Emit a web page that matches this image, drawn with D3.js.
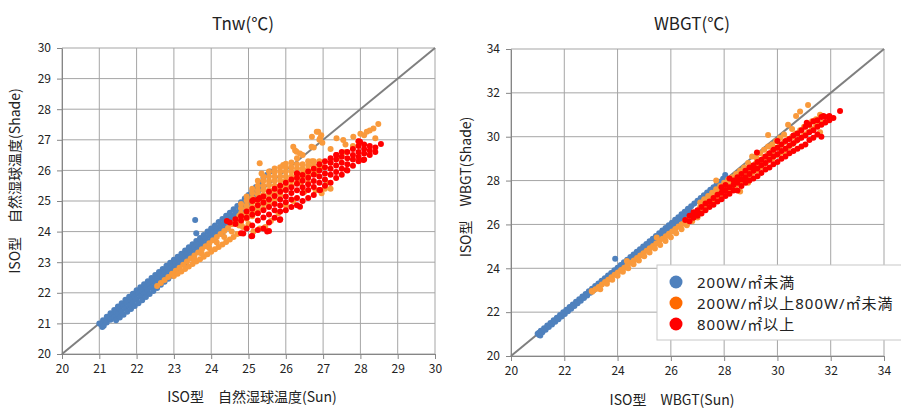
<!DOCTYPE html>
<html>
<head>
<meta charset="utf-8">
<script src="https://cdn.jsdelivr.net/npm/d3@7"></script>
<style>
  body { margin: 0; background: #fff; }
  text { font-family: "Noto Sans CJK JP", "Noto Sans", sans-serif; fill: #222; }
  .legend text { font-family: "Noto Sans", "Noto Sans CJK JP", sans-serif; }
</style>
</head>
<body>
<div id="chart"></div>
<script>
// ---- data ----
const tnwTicks = [20, 21, 22, 23, 24, 25, 26, 27, 28, 29, 30];
const wbgtTicks = [20, 22, 24, 26, 28, 30, 32, 34];

const legendLabels = ["200W/㎡未満", "200W/㎡以上800W/㎡未満", "800W/㎡以上"];

// points are [sun, shade]; "cols" arrays are [sun, shade1, shade2, ...]
const tnwLow = [
  [21.0,21.0],[21.1,21.1],[21.2,21.22],[21.3,21.33],[21.4,21.44],[21.5,21.55],[21.6,21.66],[21.7,21.77],[21.8,21.87],[21.9,21.97],
  [22.0,22.08],[22.1,22.18],[22.2,22.28],[22.3,22.38],[22.4,22.48],[22.5,22.58],[22.6,22.68],[22.7,22.78],[22.8,22.88],[22.9,22.98],
  [23.0,23.08],[23.1,23.18],[23.2,23.28],[23.3,23.38],[23.4,23.49],[23.5,23.59],[23.6,23.69],[23.7,23.79],[23.8,23.89],[23.9,24.0],
  [24.0,24.1],[24.1,24.2],[24.2,24.31],[24.3,24.41],[24.4,24.52],[24.5,24.62],[24.6,24.73],[24.7,24.84],[24.8,24.96],[24.9,25.08],
  [25.0,25.2],[25.1,25.33],[25.2,25.46],[25.3,25.6],[25.4,25.75],[25.5,25.86],[25.58,25.96],
  [21.05,20.96],[21.15,21.07],[21.25,21.17],[21.35,21.27],[21.45,21.37],[21.55,21.47],[21.65,21.57],[21.75,21.67],[21.85,21.77],[21.95,21.87],
  [22.05,21.97],[22.15,22.07],[22.25,22.17],[22.35,22.27],[22.45,22.37],[22.55,22.47],[22.65,22.57],[22.75,22.67],[22.85,22.77],[22.95,22.87],
  [23.05,22.97],[23.15,23.07],[23.25,23.17],[23.35,23.27],[23.45,23.37],[23.55,23.47],[23.65,23.57],[23.75,23.67],[23.85,23.77],[23.95,23.87],
  [24.05,23.97],[24.15,24.07],[24.25,24.17],[24.35,24.27],[24.45,24.37],[24.55,24.47],[24.65,24.58],[24.75,24.69],[24.85,24.8],[24.95,24.92],
  [25.05,25.04],[25.15,25.17],[25.25,25.3],[25.35,25.45],
  [21.08,20.88],[21.12,20.92],[21.2,21.03],[21.3,21.12],[21.4,21.2],[21.5,21.3],[21.6,21.39],[21.7,21.49],[21.8,21.58],[21.9,21.68],
  [22.0,21.78],[22.1,21.88],[22.2,21.98],[22.3,22.08],[22.4,22.18],[22.5,22.28],[22.6,22.38],[22.7,22.48],[22.8,22.58],[22.9,22.68],
  [23.0,22.78],[23.1,22.88],[23.2,22.98],[23.3,23.08],[23.4,23.18],[23.5,23.28],[23.6,23.38],[23.7,23.48],[23.8,23.58],[23.9,23.68],
  [24.0,23.78],[24.1,23.88],[24.2,23.98],[24.3,24.08],[24.4,24.18],[24.5,24.29],[24.6,24.4],[24.7,24.51],[24.8,24.62],[24.9,24.74],
  [25.0,24.86],[25.1,24.98],
  [21.45,21.1],[21.55,21.19],[21.65,21.28],[21.75,21.38],[21.85,21.47],[21.95,21.57],[22.05,21.66],[22.15,21.76],[22.25,21.86],[22.35,21.96],
  [22.45,22.06],[22.55,22.16],[22.65,22.26],[22.75,22.36],[22.85,22.46],[22.95,22.56],[23.1,22.72],[23.3,22.92],[23.5,23.12],[23.7,23.32],
  [23.9,23.52],[24.1,23.72],[24.3,23.92],
  [23.57,24.38],[23.6,23.95]
];
const tnwMid = [
  [22.55,22.22],[22.65,22.32],[22.75,22.42],[22.85,22.52],[22.95,22.62],[23.05,22.72],[23.15,22.82],[23.25,22.92],[23.35,23.02],[23.45,23.12],
  [23.55,23.22],[23.65,23.32],[23.75,23.42],[23.85,23.52],[23.95,23.62],[24.05,23.72],[24.15,23.82],[24.25,23.92],[24.35,24.02],[24.45,24.12],
  [24.55,24.24],[24.65,24.38],[24.75,24.52],
  [23.0,22.55],[23.1,22.62],[23.2,22.7],[23.3,22.78],[23.4,22.86],[23.5,22.94],[23.6,23.02],[23.7,23.1],[23.8,23.18],[23.9,23.26],
  [24.0,23.34],[24.1,23.42],[24.2,23.5],[24.3,23.58],[24.4,23.66],[24.5,23.74],[24.6,23.82],[24.7,23.92],
  [23.55,23.1],[23.75,23.28],[23.95,23.46],[24.15,23.64],[24.35,23.82],[24.55,24.0],[24.75,24.2],
  // upper scatter along the 1:1 line
  [25.3,26.23],[25.35,25.9],[25.93,26.18],[26.2,26.77],[26.25,26.65],[26.29,26.61],[26.38,26.55],[26.7,27.1],[26.69,26.77],[26.83,27.26],
  [26.87,27.26],[26.92,27.05],[26.95,27.15],[26.98,26.9],[27.36,27.05],[27.54,26.99],[27.81,27.1],[27.95,26.95],[28.0,27.2],[28.1,27.15],
  [28.17,27.26],[28.25,27.3],[28.35,27.37],[28.4,27.05],[28.48,27.52],[27.2,26.7],[27.6,26.85],
  // under the red band
  [24.85,24.15],[25.0,24.25],[25.13,24.0],[25.3,24.1],[25.45,24.15],[25.6,24.35],[25.8,24.6],[26.0,24.85],[26.2,25.0],[26.5,25.3],
  [26.8,25.35],[26.96,25.25],[27.05,25.4],[27.1,25.6],[27.2,25.4],[26.6,25.6],[26.8,25.9],[27.0,26.1],[27.2,26.25],[26.5,26.0],
  [26.7,26.3],[26.4,25.6],[27.4,26.4],[27.6,26.6],[27.8,26.8]
];
const tnwMidCols = [
  [24.8, 24.3, 24.46, 24.6, 24.76, 24.9],
  [24.95, 24.42, 24.55, 24.72, 24.85, 25.02, 25.15],
  [25.1, 24.5, 24.66, 24.8, 24.96, 25.1, 25.26, 25.4],
  [25.25, 24.62, 24.75, 24.92, 25.05, 25.22, 25.35, 25.5, 25.66],
  [25.4, 24.75, 24.9, 25.06, 25.2, 25.36, 25.5, 25.66, 25.8],
  [25.55, 24.9, 25.04, 25.2, 25.35, 25.52, 25.65, 25.8, 25.96],
  [25.7, 25.05, 25.22, 25.35, 25.5, 25.66, 25.8, 25.95, 26.06],
  [25.85, 25.2, 25.36, 25.5, 25.66, 25.8, 25.96, 26.1],
  [26.0, 25.35, 25.5, 25.66, 25.8, 25.96, 26.1, 26.22],
  [26.15, 25.5, 25.66, 25.8, 25.96, 26.1, 26.26],
  [26.3, 25.6, 25.76, 25.9, 26.06, 26.2, 26.4],
  [26.45, 25.75, 25.9, 26.06, 26.2, 26.5],
  [26.6, 25.85, 26.0, 26.16, 26.3],
  [26.75, 26.0, 26.15, 26.3, 26.75],
  [26.9, 26.1, 26.3, 27.0]
];
const tnwHigh = [
  [24.42,24.35],[24.86,23.94],[25.08,23.85],[25.5,24.0],[25.13,25.03],[25.3,25.1],[26.38,24.81],[26.92,25.36],[27.63,26.01],[27.99,26.94],
  [28.55,26.86],[28.08,26.34],[27.36,26.5],[26.3,25.9],[25.84,24.38]
];
const tnwHighCols = [
  [24.5, 24.3],
  [24.65, 24.25, 24.4],
  [24.8, 23.95, 24.36, 24.5],
  [24.95, 24.1, 24.45, 24.66],
  [25.1, 23.86, 24.2, 24.55, 24.75, 25.0],
  [25.25, 24.05, 24.36, 24.6, 24.86, 25.05],
  [25.4, 24.1, 24.46, 24.7, 24.95, 25.15],
  [25.55, 24.02, 24.3, 24.56, 24.8, 25.05, 25.3],
  [25.7, 24.45, 24.7, 24.9, 25.16, 25.4],
  [25.85, 24.4, 24.66, 24.85, 25.05, 25.3, 25.5],
  [26.0, 24.7, 24.96, 25.15, 25.36, 25.6],
  [26.15, 24.8, 25.05, 25.26, 25.45, 25.7],
  [26.3, 24.86, 25.1, 25.35, 25.56, 25.75, 25.9],
  [26.45, 25.0, 25.26, 25.45, 25.66, 25.85],
  [26.6, 25.1, 25.36, 25.55, 25.76, 25.96],
  [26.75, 25.2, 25.46, 25.65, 25.86, 26.05],
  [26.9, 25.36, 25.6, 25.8, 26.0, 26.2],
  [27.05, 25.5, 25.7, 25.9, 26.1, 26.3],
  [27.2, 25.6, 25.86, 26.05, 26.25, 26.4],
  [27.35, 25.75, 25.95, 26.16, 26.36, 26.5],
  [27.5, 25.86, 26.05, 26.25, 26.45, 26.6],
  [27.65, 26.0, 26.2, 26.4, 26.6],
  [27.8, 26.15, 26.36, 26.5, 26.7],
  [27.95, 26.3, 26.45, 26.6, 26.8, 26.95],
  [28.1, 26.36, 26.55, 26.7, 26.85],
  [28.25, 26.5, 26.65, 26.8],
  [28.4, 26.6, 26.75]
];

const wbgtLow = [
  [21.0,21.02],[21.12,21.15],[21.24,21.27],[21.36,21.39],[21.48,21.51],[21.6,21.63],[21.72,21.75],[21.84,21.87],[21.96,21.99],[22.08,22.11],
  [22.2,22.23],[22.32,22.35],[22.44,22.47],[22.56,22.59],[22.68,22.71],[22.8,22.83],[22.92,22.95],[23.04,23.07],[23.16,23.19],[23.28,23.31],
  [23.4,23.43],[23.52,23.55],[23.64,23.67],[23.76,23.79],[23.88,23.91],[24.0,24.03],[24.12,24.15],[24.24,24.27],[24.36,24.39],[24.48,24.51],
  [24.6,24.63],[24.72,24.75],[24.84,24.87],[24.96,24.99],[25.08,25.11],[25.2,25.23],[25.32,25.35],[25.44,25.47],[25.56,25.6],[25.68,25.72],
  [25.8,25.84],[25.92,25.96],[26.04,26.08],[26.16,26.21],[26.28,26.33],[26.4,26.46],[26.52,26.58],[26.64,26.71],[26.76,26.83],[26.88,26.96],
  [27.0,27.08],[27.12,27.21],[27.24,27.33],[27.36,27.46],[27.48,27.58],[27.6,27.7],[27.72,27.83],[27.84,27.95],[27.96,28.08],[28.04,28.25],
  [21.06,20.96],[21.18,21.08],[21.3,21.2],[21.42,21.32],[21.54,21.44],[21.66,21.56],[21.78,21.68],[21.9,21.8],[22.02,21.92],[22.14,22.04],
  [22.26,22.16],[22.38,22.28],[22.5,22.4],[22.62,22.52],[22.74,22.64],[22.86,22.76],[22.98,22.88],[23.1,23.0],[23.22,23.12],[23.34,23.24],
  [23.46,23.36],[23.58,23.48],[23.7,23.6],[23.82,23.72],[23.94,23.84],[24.06,23.96],[24.18,24.08],[24.3,24.2],[24.42,24.32],[24.54,24.44],
  [24.66,24.56],[24.78,24.68],[24.9,24.8],[25.02,24.92],[25.14,25.04],[25.26,25.16],[25.38,25.28],[25.5,25.4],[25.62,25.52],[25.74,25.64],
  [25.86,25.76],[25.98,25.88],[26.1,26.0],[26.22,26.12],[26.34,26.24],[26.46,26.36],[26.58,26.48],[26.7,26.6],
  [21.05,21.06],[21.1,20.94],[23.91,24.44]
];
const wbgtMid = [
  [23.05,22.93],[23.17,23.04],[23.29,23.15],[23.41,23.26],[23.53,23.37],[23.65,23.48],[23.77,23.59],[23.89,23.7],[24.01,23.81],[24.13,23.92],
  [24.25,24.03],[24.37,24.14],[24.49,24.25],[24.61,24.36],[24.73,24.47],[24.85,24.58],[24.97,24.69],[25.09,24.8],[25.21,24.91],[25.33,25.02],
  [25.45,25.13],[25.57,25.24],[25.69,25.35],[25.81,25.46],[25.93,25.57],[26.05,25.68],[26.17,25.79],[26.29,25.9],[26.41,26.01],[26.53,26.12],
  [26.65,26.24],[26.77,26.36],[26.89,26.48],[27.01,26.6],
  [23.6,23.3],[23.8,23.48],[24.0,23.66],[24.2,23.84],[24.4,24.0],[24.6,24.18],[24.8,24.36],[25.0,24.55],[25.2,24.72],[25.4,24.9],
  [25.6,25.06],[25.8,25.24],[26.0,25.42],[26.2,25.6],[26.4,25.78],[26.6,25.96],[26.8,26.15],[27.0,26.32],
  [24.35,24.33],[25.47,25.4],[23.35,23.04],[23.03,22.96]
];
const wbgtMidCols = [
  [27.1, 26.55, 26.8, 27.0],
  [27.25, 26.7, 26.95, 27.15],
  [27.4, 26.85, 27.1, 27.3],
  [27.55, 27.0, 27.25, 27.45],
  [27.7, 27.1, 27.35, 27.6, 28.0],
  [27.85, 27.25, 27.5, 27.75],
  [28.0, 27.4, 27.65, 27.9],
  [28.15, 27.5, 27.8, 28.05],
  [28.3, 27.65, 27.9, 28.15],
  [28.45, 27.8, 28.05, 28.3],
  [28.6, 27.5, 27.95, 28.2, 28.45],
  [28.75, 28.05, 28.35, 28.6],
  [28.9, 27.9, 28.2, 28.5, 28.8],
  [29.05, 28.35, 28.65, 29.1],
  [29.2, 28.45, 28.8, 29.05],
  [29.35, 28.6, 28.9, 29.25],
  [29.5, 28.75, 29.05, 29.4],
  [29.65, 28.9, 29.2, 29.55, 30.08],
  [29.8, 29.0, 29.35, 29.65],
  [29.95, 29.15, 29.5, 29.8],
  [30.1, 29.25, 29.6, 29.95],
  [30.25, 29.3, 29.75, 30.1],
  [30.4, 29.5, 29.9, 30.55],
  [30.55, 29.65, 30.0, 30.35],
  [30.7, 29.8, 30.15, 30.95],
  [30.85, 29.95, 30.3, 31.15],
  [31.0, 30.1, 30.45],
  [31.15, 30.2, 30.55, 31.45],
  [31.3, 30.35, 30.7],
  [31.45, 30.5, 30.8],
  [31.6, 30.2, 30.6, 31.0],
  [31.72, 30.65]
];
const wbgtHigh = [
  [29.23,29.28],[32.35,31.17],[26.54,26.2],[28.2,28.1],[31.1,30.64],[31.73,30.95]
];
const wbgtHighCols = [
  [26.7, 26.15, 26.4],
  [26.85, 26.3, 26.55],
  [27.0, 26.4, 26.65],
  [27.15, 26.5, 26.8],
  [27.3, 26.65, 26.95],
  [27.45, 26.8, 27.05],
  [27.6, 26.9, 27.2],
  [27.75, 27.05, 27.35],
  [27.9, 27.15, 27.45, 27.7],
  [28.05, 27.3, 27.55, 27.8],
  [28.2, 27.4, 27.7],
  [28.35, 27.55, 27.8, 28.0],
  [28.5, 27.55, 27.9, 28.15],
  [28.65, 27.75, 28.05, 28.3],
  [28.8, 27.9, 28.15, 28.45],
  [28.95, 28.0, 28.3, 28.6],
  [29.1, 28.1, 28.45, 28.7],
  [29.25, 28.2, 28.55, 28.85],
  [29.4, 28.35, 28.7, 28.95],
  [29.55, 28.5, 28.8, 29.1],
  [29.7, 28.6, 28.95, 29.25],
  [29.85, 28.75, 29.1, 29.4],
  [30.0, 28.85, 29.2, 29.5, 29.8],
  [30.15, 29.0, 29.35, 29.65],
  [30.3, 29.1, 29.45, 29.8],
  [30.45, 29.25, 29.6, 29.9],
  [30.6, 29.35, 29.7, 30.05],
  [30.75, 29.45, 29.85, 30.15],
  [30.9, 29.55, 29.95, 30.3],
  [31.05, 29.65, 30.05, 30.45],
  [31.2, 29.85, 30.2, 30.55],
  [31.35, 29.95, 30.3, 30.7],
  [31.5, 30.1, 30.45, 30.75],
  [31.65, 30.0, 30.55, 30.9],
  [31.8, 30.65, 30.9],
  [31.95, 30.75, 30.95],
  [32.1, 30.85]
];

// ---- drawing ----
const colors = ["#4f81bd", "#f99a3c", "#ff0000"];
const legendColors = ["#4f81bd", "#ff6a00", "#ff0000"];

// turn [x, y1, y2, ...] columns into points
const fromCols = cols => cols.flatMap(c => c.slice(1).map(v => [c[0], v]));

const svg = d3.select("#chart").append("svg")
    .attr("width", 901)
    .attr("height", 408);

function panel(opt) {
    const x = d3.scaleLinear().domain(opt.domain).range([opt.left, opt.right]);
    const y = d3.scaleLinear().domain(opt.domain).range([opt.bottom, opt.top]);
    const g = svg.append("g");

    // grid
    g.append("g").selectAll("line").data(opt.ticks).enter().append("line")
        .attr("x1", d => x(d)).attr("x2", d => x(d))
        .attr("y1", opt.top).attr("y2", opt.bottom)
        .attr("stroke", "#a5a5a5").attr("stroke-width", 1);
    g.append("g").selectAll("line").data(opt.ticks).enter().append("line")
        .attr("x1", opt.left).attr("x2", opt.right)
        .attr("y1", d => y(d)).attr("y2", d => y(d))
        .attr("stroke", "#a5a5a5").attr("stroke-width", 1);

    // axes
    const ax = g.append("g")
        .attr("transform", "translate(0," + opt.bottom + ")")
        .call(d3.axisBottom(x).tickValues(opt.ticks).tickSize(5).tickSizeOuter(0).tickPadding(5));
    const ay = g.append("g")
        .attr("transform", "translate(" + opt.left + ",0)")
        .call(d3.axisLeft(y).tickValues(opt.ticks).tickSize(5).tickSizeOuter(0).tickPadding(6));
    [ax, ay].forEach(a => {
        a.select(".domain").attr("stroke", "#868686");
        a.selectAll(".tick line").attr("stroke", "#868686");
        a.selectAll(".tick text").style("font-size", "12px").attr("fill", "#222");
    });

    // 1:1 line
    g.append("line")
        .attr("x1", x(opt.domain[0])).attr("y1", y(opt.domain[0]))
        .attr("x2", x(opt.domain[1])).attr("y2", y(opt.domain[1]))
        .attr("stroke", "#7f7f7f").attr("stroke-width", 2);

    // points, in series order
    opt.series.forEach((s, i) => {
        g.append("g").selectAll("circle").data(s).enter().append("circle")
            .attr("cx", d => x(d[0]))
            .attr("cy", d => y(d[1]))
            .attr("r", 3)
            .attr("fill", colors[i]);
    });

    // titles
    g.append("text").attr("x", opt.titleX).attr("y", 30)
        .attr("text-anchor", "middle").style("font-size", "17px").text(opt.title);
    g.append("text").attr("x", opt.xLabelX).attr("y", opt.xLabelY)
        .attr("text-anchor", "middle").style("font-size", "14px").text(opt.xLabel);
    g.append("text")
        .attr("transform", "translate(" + opt.yLabelX + "," + opt.yLabelY + ") rotate(-90)")
        .attr("text-anchor", "middle").style("font-size", "14px").text(opt.yLabel);
}

panel({
    domain: [20, 30], ticks: tnwTicks,
    left: 62, right: 435, top: 48, bottom: 354,
    series: [tnwLow, tnwMid.concat(fromCols(tnwMidCols)), tnwHigh.concat(fromCols(tnwHighCols))],
    title: "Tnw(℃)", titleX: 243,
    xLabel: "ISO型　自然湿球温度(Sun)", xLabelX: 252, xLabelY: 402,
    yLabel: "ISO型　自然湿球温度(Shade)", yLabelX: 20, yLabelY: 181
});

panel({
    domain: [20, 34], ticks: wbgtTicks,
    left: 511, right: 884, top: 49, bottom: 356,
    series: [wbgtLow, wbgtMid.concat(fromCols(wbgtMidCols)), wbgtHigh.concat(fromCols(wbgtHighCols))],
    title: "WBGT(℃)", titleX: 692,
    xLabel: "ISO型　WBGT(Sun)", xLabelX: 672, xLabelY: 405,
    yLabel: "ISO型　WBGT(Shade)", yLabelX: 471, yLabelY: 187
});

// legend
const lg = svg.append("g").attr("class", "legend").attr("transform", "translate(657,265)");
lg.append("rect").attr("width", 260).attr("height", 75)
    .attr("fill", "#fff").attr("stroke", "#c8c8c8");
legendLabels.forEach((t, i) => {
    lg.append("circle").attr("cx", 19).attr("cy", 17 + i * 21).attr("r", 6.5).attr("fill", legendColors[i]);
    lg.append("text").attr("x", 40).attr("y", 22.5 + i * 21)
        .style("font-size", "15px").style("letter-spacing", "1px").text(t);
});
</script>
</body>
</html>
